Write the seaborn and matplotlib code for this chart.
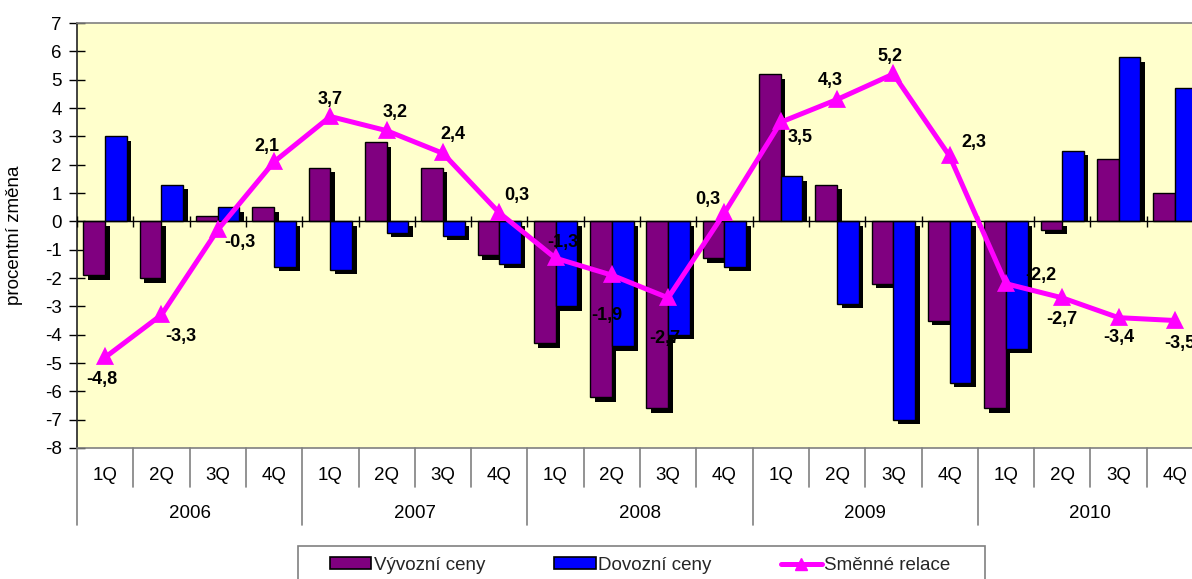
import numpy as np
import pandas as pd
import matplotlib
matplotlib.use("Agg")
import matplotlib.pyplot as plt
from matplotlib.lines import Line2D
from matplotlib.patches import Patch, Rectangle
import seaborn as sns

# ---- data ---------------------------------------------------------------
years = ["2006", "2007", "2008", "2009", "2010"]
quarters = ["1Q", "2Q", "3Q", "4Q"]
export_prices = [-1.9, -2.0, 0.2, 0.5, 1.9, 2.8, 1.9, -1.2, -4.3, -6.2,
                 -6.6, -1.3, 5.2, 1.3, -2.2, -3.5, -6.6, -0.3, 2.2, 1.0]
import_prices = [3.0, 1.3, 0.5, -1.6, -1.7, -0.4, -0.5, -1.5, -3.0, -4.4,
                 -4.0, -1.6, 1.6, -2.9, -7.0, -5.7, -4.5, 2.5, 5.8, 4.7]
terms_of_trade = [-4.8, -3.3, -0.3, 2.1, 3.7, 3.2, 2.4, 0.3, -1.3, -1.9,
                  -2.7, 0.3, 3.5, 4.3, 5.2, 2.3, -2.2, -2.7, -3.4, -3.5]
series_names = ["Vývozní ceny", "Dovozní ceny", "Směnné relace"]
y_label = "procentní změna"

# ---- styling ------------------------------------------------------------
PURPLE = "#800080"
BLUE = "#0000FF"
MAGENTA = "#FF00FF"
PLOT_BG = "#FFFFCC"
FRAME_GRAY = "#808080"
FONT = ["Liberation Sans", "DejaVu Sans"]
FS = 13.5

# label offsets (pixels right, pixels down) for the line's value labels
label_offsets = [(-3, 22), (19, 22), (22, 13), (-7, -15), (0, -17),
                 (8, -18), (10, -19), (18, -17), (7, -16), (-5, 40),
                 (-3, 41), (-17, -13), (19, 15), (-7, -19), (-3, -17),
                 (24, -14), (35, -8), (0, 22), (0, 20), (5, 23)]

sns.set_theme(style="white")
plt.rcParams["font.family"] = FONT
plt.rcParams["axes.unicode_minus"] = False

periods = [f"{y} {q}" for y in years for q in quarters]
bars = pd.DataFrame({
    "period": periods * 2,
    "series": [series_names[0]] * len(periods) + [series_names[1]] * len(periods),
    "value": export_prices + import_prices,
})
line = pd.DataFrame({"period": periods, "value": terms_of_trade})

W, H = 1192, 579
fig = plt.figure(figsize=(W / 100, H / 100), dpi=100)
# plot area: left 77px, top 23px, bottom 448px; runs past the right edge
AX_W, AX_H = 1126, 425
ax = fig.add_axes([77 / W, (H - 448) / H, AX_W / W, AX_H / H])
ax.set_facecolor(PLOT_BG)

n = len(periods)
ax.set_xlim(-0.5, n - 0.5)
ax.set_ylim(-8, 7)

sns.barplot(data=bars, x="period", y="value", hue="series", order=periods,
            hue_order=series_names[:2], palette=[PURPLE, BLUE], width=0.77,
            saturation=1, edgecolor="black", linewidth=1, errorbar=None,
            legend=False, ax=ax, zorder=2)

# drop shadows: shifted right/down, positive bars cut off at the baseline
sx = 4.5 * n / AX_W          # 4.5 px in category units
sy = 4.5 * 15 / AX_H         # 4.5 px in value units
for p in list(ax.patches):
    x0, w, h = p.get_x(), p.get_width(), p.get_height()
    if h >= 0:
        lo, hi = 0, max(h - sy, 0)
    else:
        lo, hi = h - sy, -sy
    ax.add_patch(Rectangle((x0 + sx, lo), w, hi - lo, facecolor="black",
                           edgecolor="none", zorder=1.9))

# category axis drawn at zero with crossing ticks
ax.axhline(0, color="black", lw=1, zorder=3)
ax.vlines(np.arange(n + 1) - 0.5, -0.2, 0.2, color="black", lw=1, zorder=3)

sns.pointplot(data=line, x="period", y="value", order=periods, color=MAGENTA,
              markers="^", linestyles="-", markersize=8, linewidth=3.6,
              errorbar=None, ax=ax, zorder=5)

for i, v in enumerate(terms_of_trade):
    dx, dy = label_offsets[i]
    ax.annotate(f"{v:.1f}".replace(".", ","), (i, v),
                xytext=(dx * 0.72, -dy * 0.72), textcoords="offset points",
                ha="center", va="center", fontsize=13, fontweight="bold",
                color="black", zorder=6)

ax.set_xlim(-0.5, n - 0.5)
ax.set_ylim(-8, 7)
ax.set_yticks(range(-8, 8))
ax.set_xticks([])
ax.set_xlabel("")
ax.set_ylabel("")
ax.tick_params(axis="y", direction="inout", length=12, width=1, color="black",
               labelsize=FS, labelcolor="black", pad=5, left=True)
fig.text(15 / W, (H - 235) / H, y_label, rotation=90, ha="center",
         va="center", fontsize=FS, color="black")

for side in ["top", "bottom", "right"]:
    ax.spines[side].set_color(FRAME_GRAY)
    ax.spines[side].set_linewidth(1.2)
ax.spines["left"].set_color("#222222")
ax.spines["left"].set_linewidth(1.2)

# two-level category labels under the plot
xform = ax.get_xaxis_transform()
def fy(px):
    return (448 - px) / AX_H

for k in range(n + 1):
    bottom = 525 if k % 4 == 0 else 487
    ax.plot([k - 0.5, k - 0.5], [0, fy(bottom)], transform=xform,
            color=FRAME_GRAY, lw=1.2, clip_on=False)
for k in range(n):
    ax.text(k, fy(475), quarters[k % 4], transform=xform, ha="center",
            va="center", fontsize=FS, color="black", clip_on=False)
for j, yr in enumerate(years):
    ax.text(4 * j + 1.5, fy(513), yr, transform=xform, ha="center",
            va="center", fontsize=FS, color="black", clip_on=False)

# legend with a separately drawn frame
fig.add_artist(Rectangle((298 / W, (H - 600) / H), (985 - 298) / W, 54 / H,
                         transform=fig.transFigure, facecolor="white",
                         edgecolor=FRAME_GRAY, lw=1.2))
handles = [Patch(facecolor=PURPLE, edgecolor="black", lw=1.2),
           Patch(facecolor=BLUE, edgecolor="black", lw=1.2),
           Line2D([], [], color=MAGENTA, lw=3.6, marker="^", markersize=8)]
fig.legend(handles, series_names, ncol=3, loc="upper left",
           bbox_to_anchor=(330 / W, (H - 557) / H), frameon=False,
           borderpad=0, borderaxespad=0, handlelength=2.2, handleheight=0.6,
           handletextpad=0.12, columnspacing=3.7, fontsize=FS)

fig.savefig("out.png", dpi=100, facecolor="white")
